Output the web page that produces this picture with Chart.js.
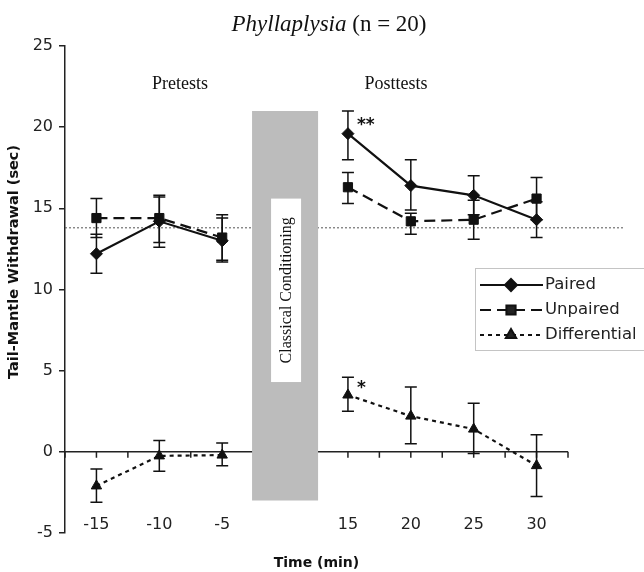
<!DOCTYPE html>
<html>
<head>
<meta charset="utf-8">
<script src="https://cdn.jsdelivr.net/npm/chart.js@4/dist/chart.umd.min.js"></script>
<style>
  html, body { margin: 0; padding: 0; background: #fff; }
</style>
</head>
<body>
<canvas id="chart" width="644" height="572"></canvas>
<script>
// time points (index 3 is the conditioning gap)
var labels = ['-15', '-10', '-5', '', '15', '20', '25', '30'];

var paired       = [12.2, 14.2, 13.0, null, 19.6, 16.4, 15.8, 14.3];
var pairedLow    = [11.0, 12.6, 11.7, null, 18.0, 14.9, 14.6, 13.2];
var pairedHigh   = [13.4, 15.8, 14.4, null, 21.0, 18.0, 17.0, 15.4];

var unpaired     = [14.4, 14.4, 13.2, null, 16.3, 14.2, 14.3, 15.6];
var unpairedLow  = [13.2, 12.9, 11.8, null, 15.3, 13.4, 13.1, 14.3];
var unpairedHigh = [15.6, 15.7, 14.6, null, 17.2, 14.7, 15.5, 16.9];

var differential     = [-2.1, -0.25, -0.2, null, 3.5, 2.2, 1.4, -0.85];
var differentialLow  = [-3.1, -1.2, -0.85, null, 2.5, 0.5, -0.1, -2.75];
var differentialHigh = [-1.05, 0.7, 0.55, null, 4.6, 4.0, 3.0, 1.05];

// conditioning block and baseline level
var conditioning = [null, null, null, [-3.0, 21.0], null, null, null, null];
var baseline = 13.8;

var ink = '#111';

var errorSets = [
    { low: pairedLow, high: pairedHigh },
    { low: unpairedLow, high: unpairedHigh },
    { low: differentialLow, high: differentialHigh }
];

var decor = {
    id: 'decor',
    beforeDatasetsDraw: function (chart) {
        var ctx = chart.ctx, area = chart.chartArea;
        var x = chart.scales.x, y = chart.scales.y;
        ctx.save();
        // dotted baseline
        ctx.strokeStyle = '#555';
        ctx.lineWidth = 1;
        ctx.setLineDash([2, 2]);
        ctx.beginPath();
        ctx.moveTo(area.left, y.getPixelForValue(baseline));
        ctx.lineTo(area.right + 57, y.getPixelForValue(baseline));
        ctx.stroke();
        ctx.setLineDash([]);
        // zero axis with ticks
        var y0 = y.getPixelForValue(0);
        ctx.strokeStyle = '#222';
        ctx.lineWidth = 1.5;
        ctx.beginPath();
        ctx.moveTo(area.left, y0);
        ctx.lineTo(area.right, y0);
        var half = (x.getPixelForValue(1) - x.getPixelForValue(0)) / 2;
        for (var i = 0; i < labels.length; i++) {
            var px = x.getPixelForValue(i);
            ctx.moveTo(px - half, y0); ctx.lineTo(px - half, y0 + 6);
            ctx.moveTo(px, y0); ctx.lineTo(px, y0 + 6);
        }
        ctx.moveTo(area.right, y0); ctx.lineTo(area.right, y0 + 6);
        ctx.stroke();
        // time labels sit just above the -5 level
        ctx.fillStyle = '#222';
        ctx.font = '16px "DejaVu Sans"';
        ctx.textAlign = 'center';
        ctx.textBaseline = 'middle';
        for (var j = 0; j < labels.length; j++) {
            ctx.fillText(labels[j], x.getPixelForValue(j), area.bottom - 8);
        }
        ctx.restore();
    },
    afterDatasetsDraw: function (chart) {
        var ctx = chart.ctx;
        var x = chart.scales.x, y = chart.scales.y;
        ctx.save();

        // error bars
        ctx.strokeStyle = ink;
        ctx.lineWidth = 1.5;
        errorSets.forEach(function (s) {
            for (var i = 0; i < labels.length; i++) {
                if (s.low[i] == null) continue;
                var px = x.getPixelForValue(i);
                var lo = y.getPixelForValue(s.low[i]);
                var hi = y.getPixelForValue(s.high[i]);
                ctx.beginPath();
                ctx.moveTo(px, lo); ctx.lineTo(px, hi);
                ctx.moveTo(px - 6, lo); ctx.lineTo(px + 6, lo);
                ctx.moveTo(px - 6, hi); ctx.lineTo(px + 6, hi);
                ctx.stroke();
            }
        });

        // label box inside the conditioning block
        var cx = x.getPixelForValue(3) + 1;
        var top = y.getPixelForValue(15.6), bot = y.getPixelForValue(4.3);
        ctx.fillStyle = '#fff';
        ctx.fillRect(cx - 15, top, 30, bot - top);
        ctx.translate(cx, (top + bot) / 2);
        ctx.rotate(-Math.PI / 2);
        ctx.fillStyle = ink;
        ctx.font = '16px "Liberation Serif"';
        ctx.textAlign = 'center';
        ctx.textBaseline = 'middle';
        ctx.fillText('Classical Conditioning', 0, 1);
        ctx.setTransform(1, 0, 0, 1, 0, 0);

        // significance marks
        ctx.font = 'bold 17px "DejaVu Sans"';
        ctx.textAlign = 'left';
        ctx.fillText('**', x.getPixelForValue(4) + 9, y.getPixelForValue(20.1));
        ctx.fillText('*', x.getPixelForValue(4) + 9, y.getPixelForValue(3.9));

        // title and section labels
        ctx.textBaseline = 'middle';
        ctx.font = 'italic 23px "Liberation Serif"';
        var t1 = 'Phyllaplysia', t2 = ' (n = 20)';
        var w1 = ctx.measureText(t1).width;
        ctx.font = '23px "Liberation Serif"';
        var w2 = ctx.measureText(t2).width;
        var tx = 329 - (w1 + w2) / 2;
        ctx.font = 'italic 23px "Liberation Serif"';
        ctx.fillText(t1, tx, 25);
        ctx.font = '23px "Liberation Serif"';
        ctx.fillText(t2, tx + w1, 25);

        ctx.font = '18px "Liberation Serif"';
        ctx.textAlign = 'center';
        ctx.fillText('Pretests', 180, 84);
        ctx.fillText('Posttests', 396, 84);

        // y axis title
        ctx.translate(14, 262);
        ctx.rotate(-Math.PI / 2);
        ctx.font = 'bold 14.5px "DejaVu Sans"';
        ctx.fillText('Tail-Mantle Withdrawal (sec)', 0, 0);
        ctx.setTransform(1, 0, 0, 1, 0, 0);

        // legend
        ctx.strokeStyle = '#888';
        ctx.lineWidth = 1;
        ctx.setLineDash([1, 1]);
        ctx.strokeRect(475.5, 268.5, 180, 82);
        var rows = [285, 310, 335];
        chart.data.datasets.forEach(function (ds, k) {
            if (ds.type === 'bar') return;
            var ry = rows[k];
            ctx.strokeStyle = ink;
            ctx.lineWidth = 2;
            ctx.setLineDash(ds.borderDash || []);
            ctx.beginPath();
            ctx.moveTo(480, ry); ctx.lineTo(543, ry);
            ctx.stroke();
            ctx.setLineDash([]);
            Chart.helpers.drawPoint(ctx, {
                pointStyle: ds.pointStyle, radius: ds.pointRadius, borderWidth: 1, rotation: 0
            }, 511, ry);
            ctx.fillStyle = '#222';
            ctx.font = '16.5px "DejaVu Sans"';
            ctx.textAlign = 'left';
            ctx.fillText(ds.label, 545, ry);
        });
        ctx.restore();
    }
};

function lineSet(label, data, style, radius, dash, order) {
    return {
        type: 'line', label: label, data: data,
        borderColor: ink, backgroundColor: ink, borderWidth: 2.2,
        borderDash: dash, pointStyle: style, pointRadius: radius,
        pointBackgroundColor: ink, pointBorderColor: ink, pointBorderWidth: 1,
        spanGaps: false, tension: 0, fill: false, order: order
    };
}

new Chart(document.getElementById('chart'), {
    type: 'line',
    data: {
        labels: labels,
        datasets: [
            lineSet('Paired', paired, 'rectRot', 6, [], 1),
            lineSet('Unpaired', unpaired, 'rect', 6.5, [11, 6], 2),
            lineSet('Differential', differential, 'triangle', 6, [4, 4], 3),
            {
                type: 'bar', label: 'Classical Conditioning', data: conditioning,
                backgroundColor: '#bcbcbc', borderWidth: 0,
                categoryPercentage: 1, barPercentage: 1.05, order: 10
            }
        ]
    },
    options: {
        responsive: false,
        animation: false,
        layout: { padding: { top: 46, right: 76, left: 0, bottom: 0 } },
        plugins: { legend: { display: false }, tooltip: { enabled: false } },
        scales: {
            x: {
                type: 'category', offset: true,
                grid: { display: false, drawTicks: false },
                border: { display: false },
                ticks: { display: false },
                title: { display: true, text: 'Time (min)', font: { family: 'DejaVu Sans', size: 14, weight: 'bold' }, color: ink, padding: 0 },
                afterFit: function (s) { s.height = 39; }
            },
            y: {
                min: -5, max: 25,
                ticks: { stepSize: 5, font: { family: 'DejaVu Sans', size: 16 }, color: '#222', padding: 6 },
                grid: { drawOnChartArea: false, tickLength: 6, color: '#222', lineWidth: 1.5 },
                border: { color: '#222', width: 1.5 },
                afterFit: function (s) { s.width = 65; }
            }
        }
    },
    plugins: [decor]
});
</script>
</body>
</html>
